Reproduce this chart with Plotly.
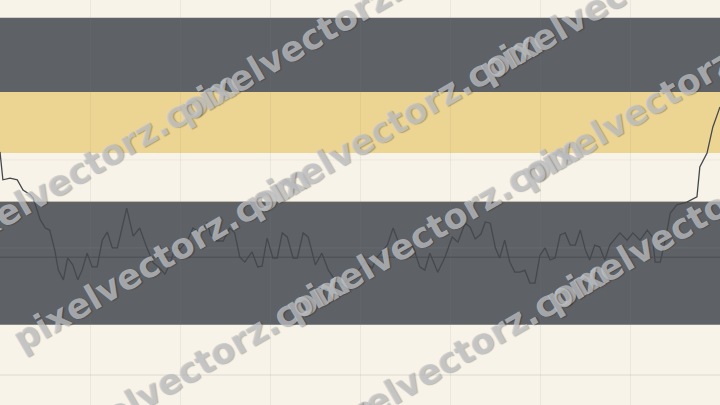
import math
import plotly.graph_objects as go

# ---- data ----
day = [0, 0.4, 1.4, 2.4, 3.2, 4.2, 4.6, 5.6, 6.3, 6.9, 7.6, 8.1, 8.8, 9.4, 10.1, 10.8, 11.4, 12.1, 12.8, 13.5,
       14.2, 14.9, 15.6, 16.3, 17.6, 18.5, 19.4, 20.4, 21.3, 22.2, 22.9, 23.6, 24.3, 25.0, 26.0, 26.8, 27.8, 28.8,
       29.2, 30.1, 31.0, 31.9, 32.6, 33.3, 34.0, 35.0, 35.8, 36.4, 37.1, 37.9, 38.5, 39.2, 39.9, 40.7, 41.3, 42.1,
       42.8, 43.8, 44.7, 45.6, 46.5, 47.5, 48.6, 49.6, 50.7, 51.7, 52.4, 53.8, 54.6, 55.6, 56.5, 57.4, 58.3, 59.0,
       59.7, 60.8, 61.8, 62.8, 63.6, 64.6, 65.3, 66.0, 66.8, 67.4, 68.1, 68.8, 69.4, 70.1, 70.8, 71.5, 72.2, 72.9,
       73.6, 74.3, 75.0, 75.7, 76.4, 77.1, 77.8, 78.5, 79.2, 79.9, 80.6, 81.3, 81.9, 82.6, 83.3, 84.0, 84.7, 86.1,
       87.1, 87.9, 88.9, 89.9, 90.6, 91.0, 91.7, 92.4, 93.1, 94.0, 95.4, 96.8, 97.2, 98.2, 99.0, 100]
price = [62.5, 55.6, 56.0, 55.6, 53.1, 51.9, 51.1, 45.7, 43.7, 43.2, 38.3, 33.3, 30.9, 36.3, 34.6, 30.9, 33.3,
         37.5, 34.1, 34.1, 40.7, 42.7, 38.8, 38.8, 48.6, 41.7, 43.7, 38.8, 35.1, 33.8, 32.3, 34.8, 38.8, 38.5,
         40.5, 43.7, 42.5, 45.0, 42.2, 40.5, 40.5, 43.7, 42.5, 36.5, 35.3, 37.8, 34.1, 34.3, 41.2, 36.3, 36.3,
         42.5, 41.5, 36.3, 36.3, 42.5, 41.5, 34.6, 37.5, 33.3, 30.9, 29.6, 31.4, 32.8, 35.3, 33.8, 36.5, 39.5,
         43.7, 39.0, 40.0, 39.0, 34.1, 33.3, 37.5, 32.8, 36.5, 41.5, 40.2, 44.9, 43.9, 41.0, 42.2, 45.2, 44.9,
         38.8, 36.3, 40.7, 35.3, 32.8, 32.8, 33.3, 30.1, 30.1, 37.0, 38.8, 35.8, 36.3, 42.0, 42.5, 39.5, 39.5,
         43.2, 38.3, 35.8, 39.5, 39.0, 35.8, 39.5, 42.5, 40.7, 42.5, 40.7, 43.2, 41.5, 35.3, 35.3, 40.7, 47.4,
         49.4, 50.1, 51.4, 58.8, 62.2, 68.6, 73.6, 82.0, 82.2]

bands = [(95.6, 77.3, "#5e6267"), (77.3, 62.2, "#ecd592"), (50.1, 19.8, "#5e6267")]
hlines = [(60.5, "#ece8dc"), (38.8, "#666a6f"), (36.5, "#4b4e52"), (7.4, "#dedacf")]

WM = "pixelvectorz.com"

fig = go.Figure()
fig.add_trace(go.Scatter(x=day, y=price, mode="lines",
                         line=dict(color="#45484c", width=1.3), hoverinfo="skip", showlegend=False))

shapes = []
for top, bot, col in bands:
    shapes.append(dict(type="rect", xref="paper", x0=0, x1=1, yref="y", y0=bot, y1=top,
                       fillcolor=col, line=dict(width=0), layer="below"))
shapes.append(dict(type="line", xref="paper", x0=0, x1=1, yref="y", y0=50.1, y1=50.1,
                   line=dict(color="#6b665c", width=1), layer="below"))
for yv, col in hlines:
    shapes.append(dict(type="line", xref="paper", x0=0, x1=1, yref="y", y0=yv, y1=yv,
                       line=dict(color=col, width=1), layer="below"))

# watermark tiling: rows (y intercept at x=0) and x of the first "p" in each row
ang = 30
ca, sa = math.cos(math.radians(ang)), math.sin(math.radians(ang))
fs = 35
half_len = 9.736 * fs / 2
period_x = 233
rows = [(206, -50), (340, 20), (468, 60), (609, 87)]
annotations = []
for c, p0 in rows:
    for k in range(0, 5):
        sx = p0 + k * period_x
        sy = c - math.tan(math.radians(ang)) * sx
        cx = sx + half_len * ca - 0.35 * fs * sa
        cy = sy - half_len * sa - 0.35 * fs * ca + 25
        if cx < -200 or cx > 920 or cy < -120 or cy > 525:
            continue
        annotations.append(dict(text=WM, x=cx / 720, y=1 - cy / 405, xref="paper", yref="paper",
                                showarrow=False, textangle=-ang, xanchor="center", yanchor="middle",
                                font=dict(family="DejaVu Sans", size=fs, color="rgba(200,202,204,0.72)",
                                          weight="bold",
                                          shadow="1px 1px 1px rgba(0,0,0,0.35)")))

fig.update_layout(
    width=720, height=405, margin=dict(l=0, r=0, t=0, b=0),
    paper_bgcolor="#f7f3e8", plot_bgcolor="#f7f3e8",
    xaxis=dict(range=[0, 100], dtick=12.5, tick0=0, showgrid=True, gridcolor="rgba(128,128,128,0.10)",
               zeroline=False, showticklabels=False, ticks="", showline=False, fixedrange=True),
    yaxis=dict(range=[0, 100], showgrid=False, zeroline=False, showticklabels=False, ticks="",
               showline=False, fixedrange=True),
    shapes=shapes, annotations=annotations, showlegend=False,
)
fig.write_html("out.html", config={"displayModeBar": False},
               post_script="document.body.style.margin='0';document.body.style.overflow='hidden';")
